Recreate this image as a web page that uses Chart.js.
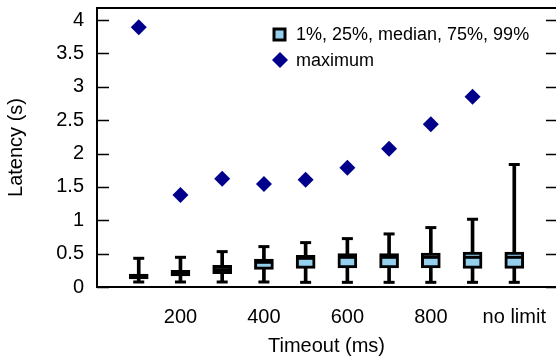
<!DOCTYPE html>
<html lang="en">
<head>
  <meta charset="UTF-8">
  <title>Latency vs timeout</title>
  <style>
    html, body { margin: 0; padding: 0; background: #fff; }
    #wrap { width: 556px; height: 360px; }
  </style>
</head>
<body>
  <div id="wrap"><canvas id="chart" width="556" height="360"></canvas></div>

  <script src="https://cdn.jsdelivr.net/npm/chart.js"></script>
  <script>
    // timeout in ms, 1000 stands for "no limit"
    const timeouts = [100, 200, 300, 400, 500, 600, 700, 800, 900, 1000];
    const p1     = [0.075, 0.075, 0.075, 0.075, 0.07, 0.07, 0.07, 0.07, 0.07, 0.07];
    const p25    = [0.12, 0.165, 0.2, 0.265, 0.28, 0.285, 0.285, 0.285, 0.28, 0.28];
    const median = [0.16, 0.21, 0.26, 0.37, 0.43, 0.445, 0.445, 0.445, 0.445, 0.445];
    const p75    = [0.195, 0.25, 0.325, 0.42, 0.475, 0.5, 0.5, 0.51, 0.525, 0.525];
    const p99    = [0.43, 0.445, 0.53, 0.605, 0.665, 0.725, 0.795, 0.89, 1.015, 1.835];
    const maximum = [3.89, 1.38, 1.62, 1.545, 1.605, 1.785, 2.07, 2.44, 2.85, null];

    const xTickValues = [200, 400, 600, 800, 1000];
    const xTickLabels = ['200', '400', '600', '800', 'no limit'];
    const yTicks = [0, 0.5, 1, 1.5, 2, 2.5, 3, 3.5, 4];

    const legendLabels = ['1%, 25%, median, 75%, 99%', 'maximum'];

    const FONT = "'Liberation Sans', Arial, Helvetica, sans-serif";
    const BOX_FILL = '#94cfee';
    const NAVY = '#00008b';

    Chart.defaults.color = '#000';
    Chart.defaults.font.family = FONT;

    const pts = (arr) => timeouts.map((t, i) => ({ x: t, y: arr[i] }));
    const ranges = (lo, hi) => timeouts.map((t, i) => ({ x: t, y: [lo[i], hi[i]] }));

    // frame, inward ticks and legend
    const framePlugin = {
      id: 'frame',
      afterDraw(chart) {
        const { ctx, chartArea: a, scales } = chart;
        ctx.save();
        ctx.strokeStyle = '#000';
        ctx.lineWidth = 2;
        ctx.beginPath();
        ctx.moveTo(a.right + 1, a.top);
        ctx.lineTo(a.left, a.top);
        ctx.lineTo(a.left, a.bottom);
        ctx.lineTo(a.right + 1, a.bottom);
        ctx.stroke();

        ctx.lineWidth = 1.5;
        yTicks.forEach(v => {
          const y = Math.round(scales.y.getPixelForValue(v)) + 0.5;
          ctx.beginPath();
          ctx.moveTo(a.left, y);
          ctx.lineTo(a.left + 12, y);
          ctx.moveTo(a.right - 10, y);
          ctx.lineTo(a.right, y);
          ctx.stroke();
        });

        // legend
        ctx.lineWidth = 3;
        ctx.fillStyle = BOX_FILL;
        ctx.fillRect(274, 29, 11, 11);
        ctx.strokeRect(274, 29, 11, 11);
        ctx.fillStyle = NAVY;
        ctx.beginPath();
        ctx.moveTo(280, 52);
        ctx.lineTo(288, 60);
        ctx.lineTo(280, 68);
        ctx.lineTo(272, 60);
        ctx.closePath();
        ctx.fill();

        ctx.fillStyle = '#000';
        ctx.font = '18px ' + FONT;
        ctx.textBaseline = 'middle';
        ctx.fillText(legendLabels[0], 296, 35);
        ctx.fillText(legendLabels[1], 296, 61);
        ctx.restore();
      }
    };

    new Chart(document.getElementById('chart'), {
      type: 'bar',
      data: {
        datasets: [
          {
            label: 'lower whisker',
            data: ranges(p1, p25),
            backgroundColor: '#000',
            barThickness: 3,
            grouped: false,
            order: 6
          },
          {
            label: 'upper whisker',
            data: ranges(p75, p99),
            backgroundColor: '#000',
            barThickness: 3,
            grouped: false,
            order: 6
          },
          {
            label: 'box',
            data: ranges(p25, p75),
            backgroundColor: BOX_FILL,
            borderColor: '#000',
            borderWidth: 3,
            borderSkipped: false,
            barThickness: 19,
            grouped: false,
            order: 4
          },
          {
            type: 'line',
            label: 'median',
            data: pts(median),
            showLine: false,
            pointStyle: 'line',
            pointRadius: 8,
            borderColor: '#000',
            pointBorderWidth: 3,
            order: 3
          },
          {
            type: 'line',
            label: '1%',
            data: pts(p1),
            showLine: false,
            pointStyle: 'line',
            pointRadius: 5.5,
            borderColor: '#000',
            pointBorderWidth: 3,
            order: 3
          },
          {
            type: 'line',
            label: '99%',
            data: pts(p99),
            showLine: false,
            pointStyle: 'line',
            pointRadius: 5.5,
            borderColor: '#000',
            pointBorderWidth: 3,
            order: 3
          },
          {
            type: 'line',
            label: 'maximum',
            data: pts(maximum),
            showLine: false,
            pointStyle: 'rectRot',
            pointRadius: 8,
            pointBackgroundColor: NAVY,
            pointBorderColor: NAVY,
            pointBorderWidth: 0,
            order: 1
          }
        ]
      },
      options: {
        responsive: false,
        animation: false,
        layout: { autoPadding: false, padding: { top: 8, right: 0, left: 0, bottom: 0 } },
        plugins: {
          legend: { display: false },
          tooltip: { enabled: false }
        },
        scales: {
          x: {
            type: 'linear',
            min: 0,
            max: 1100,
            offset: false,
            grid: { display: false, drawTicks: false },
            border: { display: false },
            afterBuildTicks: (scale) => {
              scale.ticks = xTickValues.map(v => ({ value: v }));
            },
            ticks: {
              autoSkip: false,
              maxRotation: 0,
              padding: 18,
              font: { size: 20 },
              callback: (v) => xTickLabels[xTickValues.indexOf(v)]
            },
            title: {
              display: true,
              text: 'Timeout (ms)',
              font: { size: 20 },
              padding: { top: 0, bottom: 2 }
            },
            afterFit: (scale) => {
              scale.height = 73;
              scale.paddingLeft = 0;
              scale.paddingRight = 0;
            }
          },
          y: {
            min: 0,
            max: 4.18,
            grid: { display: false, drawTicks: false },
            border: { display: false },
            afterBuildTicks: (scale) => {
              scale.ticks = yTicks.map(v => ({ value: v }));
            },
            ticks: {
              padding: 13,
              font: { size: 20 },
              callback: (v) => String(v)
            },
            title: {
              display: true,
              text: 'Latency (s)',
              font: { size: 20 },
              padding: { top: 4, bottom: 0 }
            },
            afterFit: (scale) => {
              scale.width = 97;
              scale.paddingTop = 0;
              scale.paddingBottom = 0;
            }
          }
        }
      },
      plugins: [framePlugin]
    });
  </script>
</body>
</html>
